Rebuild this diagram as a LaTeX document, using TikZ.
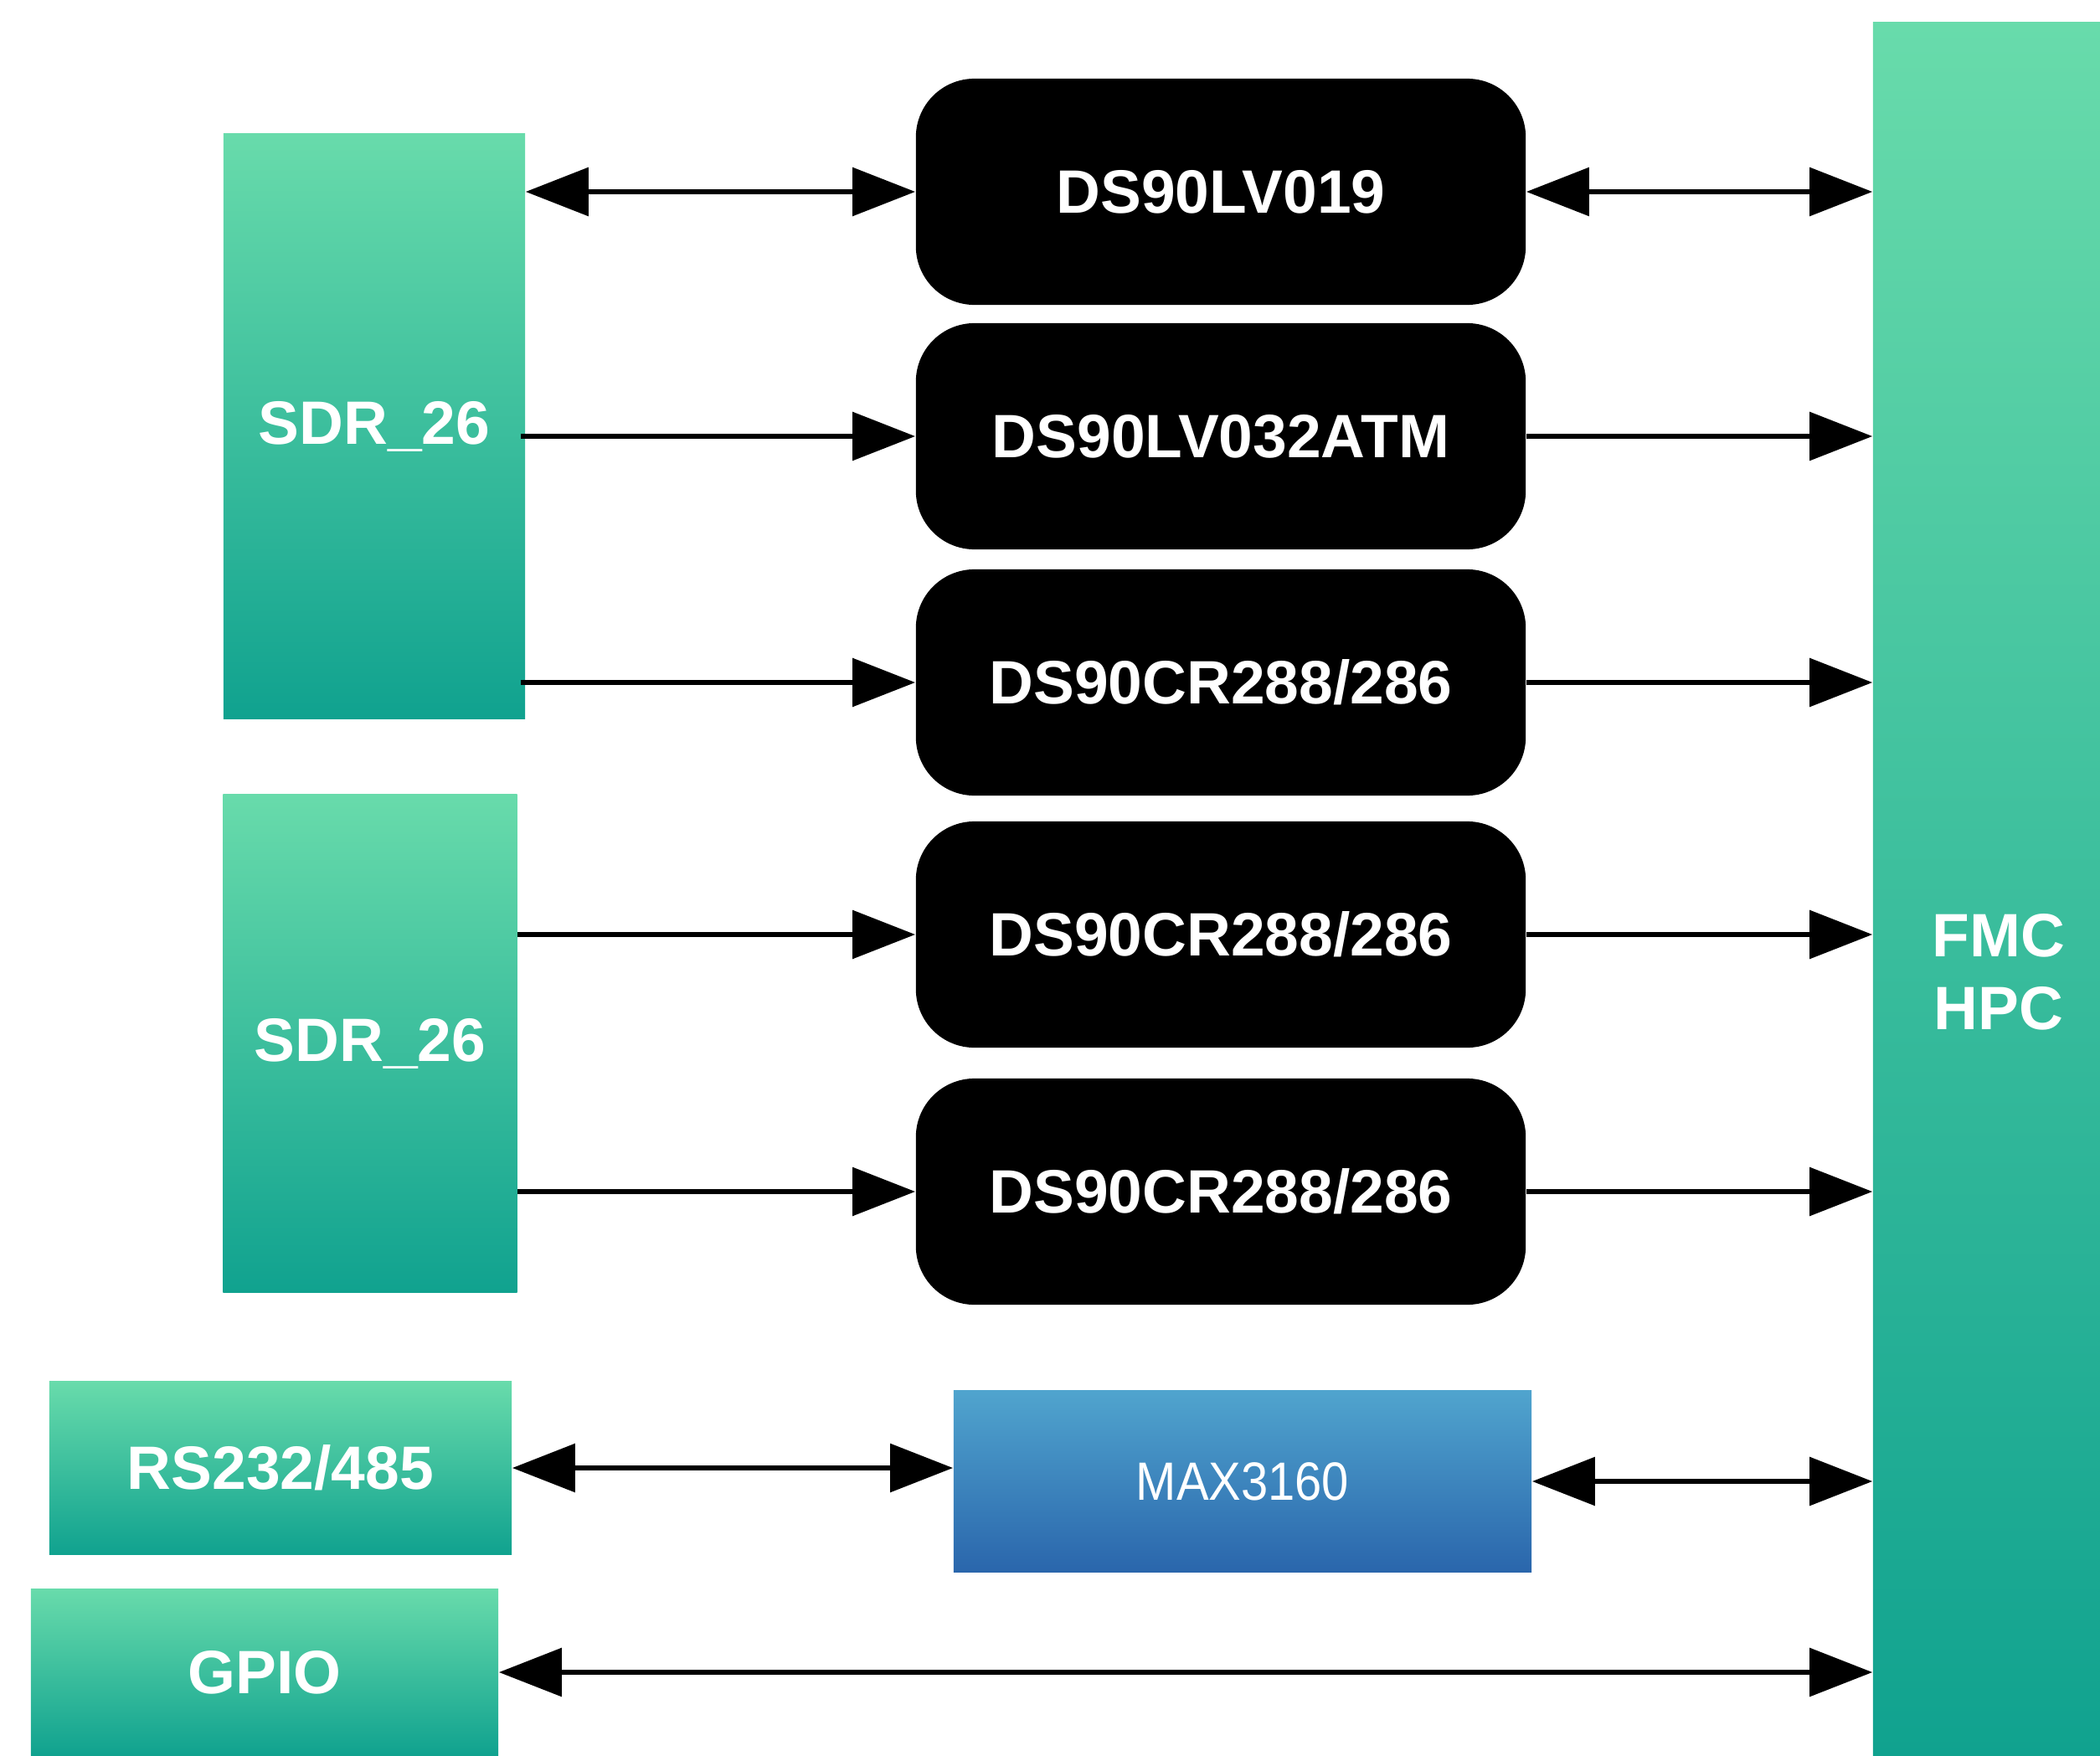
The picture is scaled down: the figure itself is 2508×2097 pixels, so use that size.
\documentclass[tikz,border=0pt]{standalone}
\usepackage{fontspec}
\usepackage{graphicx}
\setmainfont{Liberation Sans}
\usetikzlibrary{arrows.meta,positioning}
\definecolor{gtop}{RGB}{104,219,171}
\definecolor{gbot}{RGB}{16,162,143}
\definecolor{btop}{RGB}{80,164,206}
\definecolor{bbot}{RGB}{42,102,172}
\tikzset{
  greenbox/.style={rectangle, inner sep=0pt, top color=gtop, bottom color=gbot, draw=none,
    text=white, font=\fontsize{20.8}{24}\selectfont\bfseries},
  chipbox/.style={rectangle, rounded corners=0.7cm, inner sep=0pt, fill=black, draw=none,
    text=white, font=\fontsize{20.8}{24}\selectfont\bfseries,
    minimum width=7.28cm, minimum height=2.7cm},
  bluebox/.style={rectangle, inner sep=0pt, top color=btop, bottom color=bbot, draw=none,
    text=white, font=\fontsize{18.3}{22}\selectfont},
  conn/.style={line width=1.7pt, -{Triangle[length=0.75cm,width=0.57cm]}},
  biconn/.style={line width=1.7pt, {Triangle[length=0.75cm,width=0.57cm]}-{Triangle[length=0.75cm,width=0.57cm]}}
}
\begin{document}
\begin{tikzpicture}[x=0.01cm,y=-0.01cm]
\clip (0,0) rectangle (2508,2097);
\fill[white] (0,0) rectangle (2508,2097);

% left blocks
\node[greenbox, minimum width=3.6cm, minimum height=6.98cm] (sdrA) at (447,509) {SDR\_26};
\node[greenbox, minimum width=3.51cm, minimum height=5.95cm] (sdrB) at (442,1246) {SDR\_26};
\node[greenbox, minimum width=5.52cm, minimum height=2.06cm] (rs) at (335,1753) {RS232/485};
\node[greenbox, minimum width=5.58cm, minimum height=1.99cm] (gpio) at (316,1997) {GPIO};

% FMC HPC
\node[greenbox, minimum width=3.0cm, minimum height=20.7cm] (fmc) at (2387,1062) {};
\node[text=white, align=center, font=\fontsize{20.8}{24.8}\selectfont\bfseries] (fmctext) at (2387,1161) {FMC\\HPC};

% chips
\node[chipbox] (c1) at (1458,229) {DS90LV019};
\node[chipbox] (c2) at (1458,521) {DS90LV032ATM};
\node[chipbox] (c3) at (1458,815) {DS90CR288/286};
\node[chipbox] (c4) at (1458,1116) {DS90CR288/286};
\node[chipbox] (c5) at (1458,1423) {DS90CR288/286};
\node[bluebox, minimum width=6.9cm, minimum height=2.16cm] (max) at (1484,1769) {\scalebox{0.9}[1]{MAX3160}};

% connectors left
\draw[biconn] (c1.west -| sdrA.east) -- (c1.west);
\draw[conn] ([xshift=-0.06cm]c2.west -| sdrA.east) -- (c2.west);
\draw[conn] ([xshift=-0.06cm]c3.west -| sdrA.east) -- (c3.west);
\draw[conn] (c4.west -| sdrB.east) -- (c4.west);
\draw[conn] (c5.west -| sdrB.east) -- (c5.west);
\draw[biconn] (rs.east) -- (rs.east -| max.west);

% connectors right
\draw[biconn] (c1.east) -- (c1.east -| fmc.west);
\draw[conn] (c2.east) -- (c2.east -| fmc.west);
\draw[conn] (c3.east) -- (c3.east -| fmc.west);
\draw[conn] (c4.east) -- (c4.east -| fmc.west);
\draw[conn] (c5.east) -- (c5.east -| fmc.west);
\draw[biconn] (max.east) -- (max.east -| fmc.west);
\draw[biconn] (gpio.east) -- (gpio.east -| fmc.west);
\end{tikzpicture}
\end{document}
